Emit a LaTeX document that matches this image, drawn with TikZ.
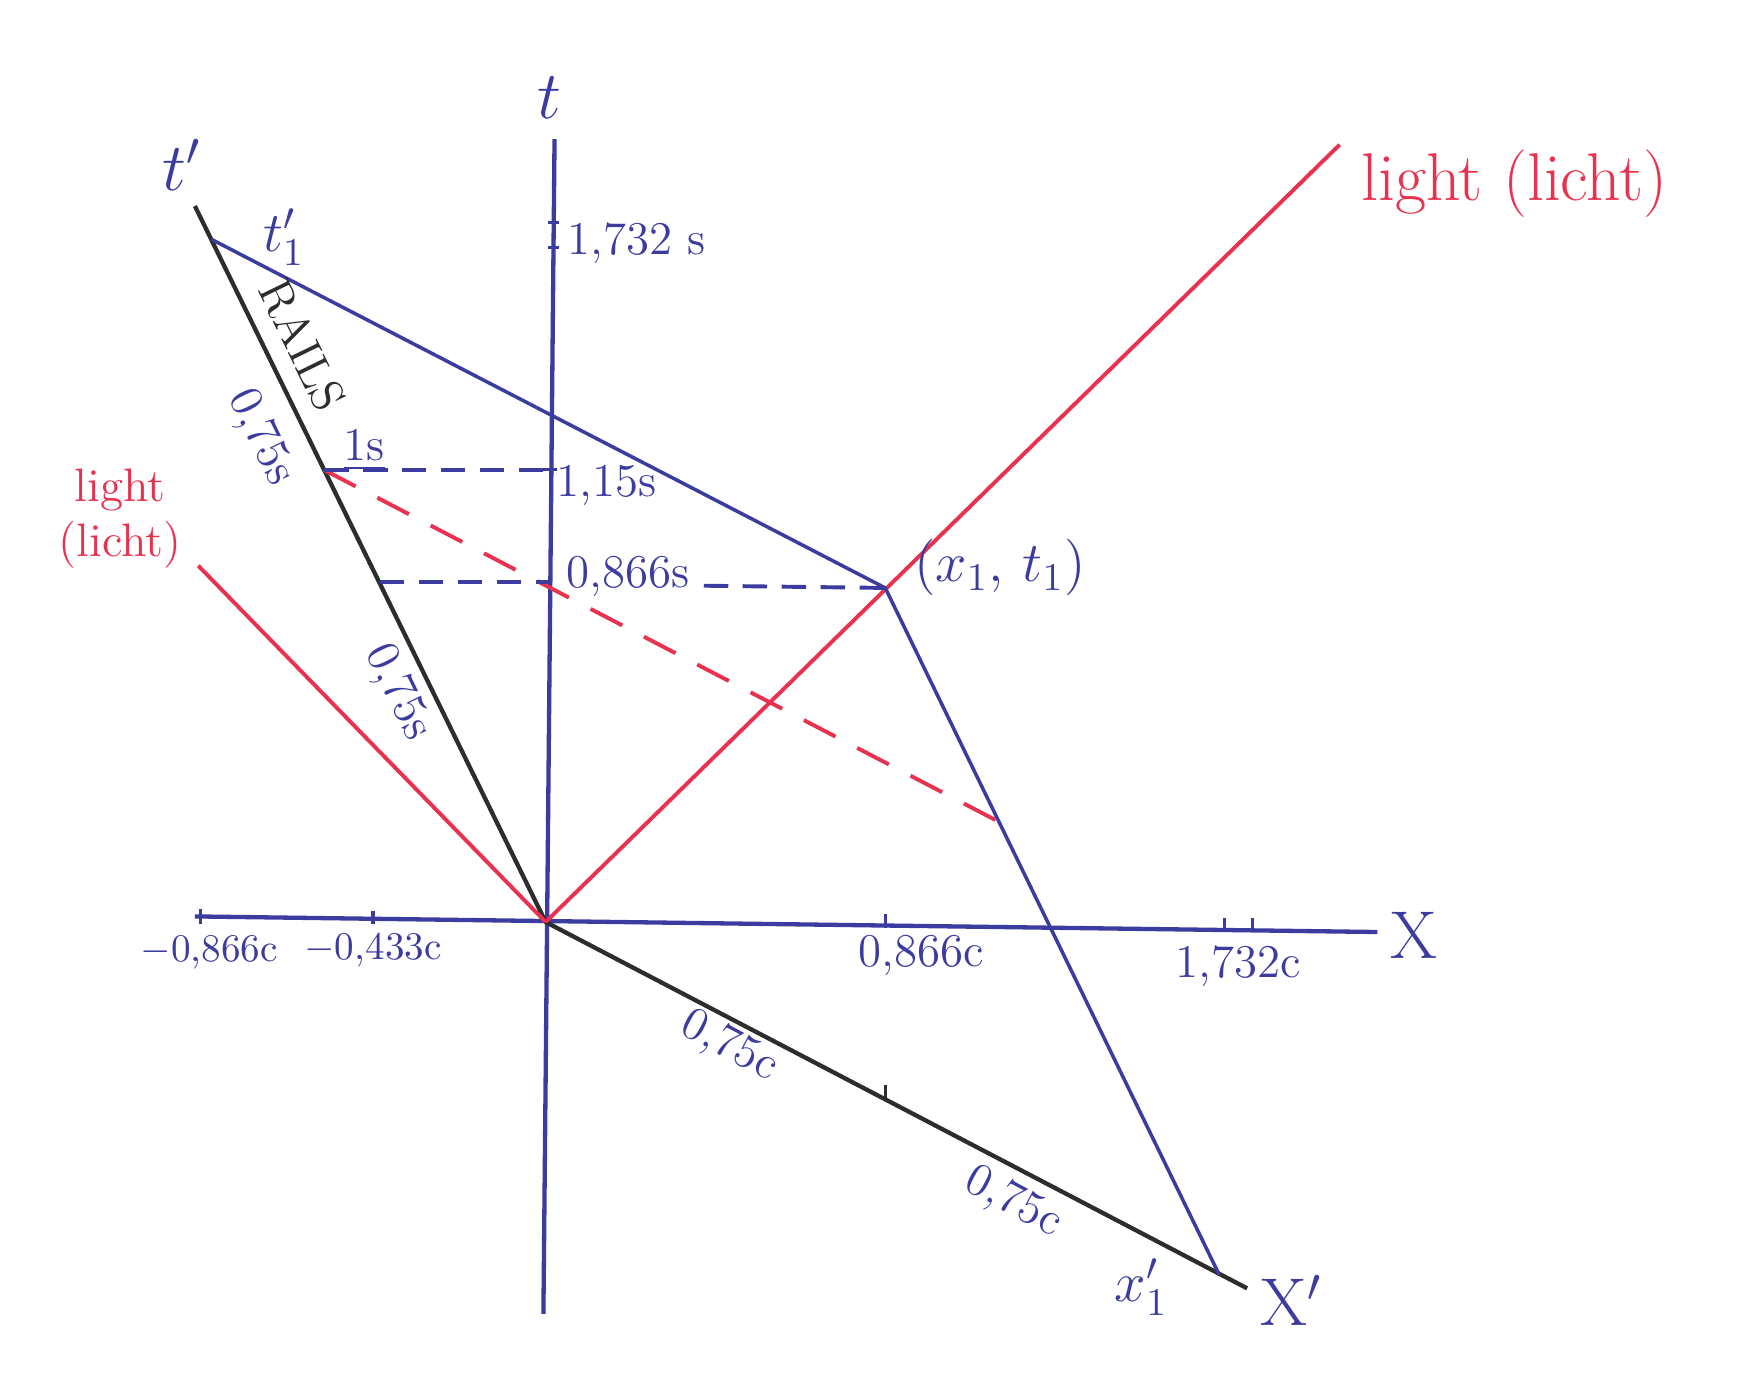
\documentclass[tikz,border=0pt]{standalone}
\usepackage{amsmath}
\usetikzlibrary{positioning,calc}
\definecolor{ink}{RGB}{60,60,160}
\definecolor{lightred}{RGB}{232,50,80}
\definecolor{rail}{RGB}{45,45,45}

\begin{document}
\begin{tikzpicture}[
    axisline/.style={ink,line width=1.1pt},
    inkline/.style={ink,line width=0.9pt},
    redline/.style={lightred,line width=1pt},
    railline/.style={rail,line width=1.1pt},
    inkdash/.style={ink,line width=1pt,dash pattern=on 0.22cm off 0.13cm},
    reddash/.style={lightred,line width=1pt,dash pattern=on 0.32cm off 0.22cm},
    num/.style={ink,font=\large,inner sep=1pt},
    bigname/.style={ink,font=\LARGE}
  ]
  \useasboundingbox (0,0) rectangle (15.68,12.38);

  % frame points
  \coordinate (O) at (4.90,4.10);
  \coordinate (tTop) at (4.98,11.13);
  \coordinate (tBot) at (4.88,0.58);
  \coordinate (xLeft) at (1.75,4.15);
  \coordinate (xRight) at (12.37,4.01);
  \coordinate (tpTop) at (1.75,10.53);
  \coordinate (xpEnd) at (11.20,0.81);

  % events
  \coordinate (T1p) at (1.90,10.23);
  \coordinate (X1T1) at (7.95,7.10);
  \coordinate (X1p) at (10.95,0.93);
  \coordinate (OneS) at (2.91,8.16);
  \coordinate (OneT) at (4.95,8.16);
  \coordinate (HalfP) at (3.41,7.15);
  \coordinate (HalfT) at (4.95,7.15);
  \coordinate (HalfR) at (6.32,7.12);
  \coordinate (RedEnd) at (8.97,5.00);
  \coordinate (LightR) at (12.03,11.08);
  \coordinate (LightL) at (1.78,7.30);

  % axes t and x
  \draw[axisline] (tBot) -- (tTop);
  \draw[axisline] (xLeft) -- (xRight);
  \node[bigname] (tName) at (4.93,11.50) {$t$};
  \node[bigname] (xName) at (12.70,3.98) {X};

  % rails frame t' and x'
  \draw[railline] (tpTop) -- (O) -- (xpEnd);
  \node[bigname] (tpName) at (1.63,10.90) {$t'$};
  \node[bigname] (xpName) at (11.60,0.70) {X$'$};

  % light lines
  \draw[redline] (O) -- (LightR);
  \draw[redline] (LightL) -- (O);
  \node[lightred,font=\LARGE,anchor=west] (lightR) at (12.10,10.73) {light (licht)};
  \node[lightred,font=\large,align=center] (lightL) at (1.08,7.72) {light\\(licht)};

  % event lines
  \draw[inkline] (T1p) -- (X1T1) -- (X1p);
  \draw[reddash] (OneS) -- (RedEnd);
  \draw[inkdash] (OneS) -- (OneT);
  \draw[inkdash] (HalfP) -- (HalfT);
  \draw[inkdash] (HalfR) -- (X1T1);

  % ticks
  \draw[ink,thick] (1.80,4.08) -- (1.80,4.22);
  \draw[ink,thick] (3.35,4.08) -- (3.35,4.20);
  \draw[ink,thick] (7.95,4.05) -- (7.95,4.17);
  \draw[ink,thick] (11.00,4.02) -- (11.00,4.14);
  \draw[ink,thick] (11.25,4.02) -- (11.25,4.14);
  \draw[ink,thick] (4.88,8.16) -- (5.00,8.16);
  \draw[ink,thick] (4.92,10.38) -- (5.02,10.38);
  \draw[ink,thick] (4.92,10.16) -- (5.02,10.16);
  \draw[rail,thick] (7.95,2.50) -- (7.95,2.64);

  % labels on t and x
  \node[num] (l1732s) at (5.72,10.20) {1,732 s};
  \node[num] (l115s) at (5.45,8.02) {1,15s};
  \node[num] (l0866s) at (5.64,7.20) {0,866s};
  \node[num] (l1s) at (3.27,8.34) {\underline{1s}};
  \node[num,font=\normalsize] (lm0866) at (1.88,3.83) {$-$0,866c};
  \node[num,font=\normalsize] (lm0433) at (3.35,3.85) {$-$0,433c};
  \node[num] (l0866c) at (8.27,3.80) {0,866c};
  \node[num] (l1732c) at (11.12,3.70) {1,732c};

  % labels on the rails frame
  \node[rail,font=\large,rotate=-64,inner sep=0pt] (rails) at (2.72,9.28) {RAILS};
  \node[num,rotate=-64,inner sep=0pt] (l075sA) at (2.34,8.45) {0,75s};
  \node[num,rotate=-64,inner sep=0pt] (l075sB) at (3.57,6.16) {0,75s};
  \node[num,rotate=-28,inner sep=0pt] (l075cA) at (6.55,2.98) {0,75c};
  \node[num,rotate=-28,inner sep=0pt] (l075cB) at (9.10,1.58) {0,75c};

  % event names
  \node[bigname,font=\Large] (t1pName) at (2.55,10.25) {$t_1'$};
  \node[bigname,font=\Large] (x1t1Name) at (8.98,7.28) {$(x_1,\,t_1)$};
  \node[bigname,font=\Large] (x1pName) at (10.25,0.82) {$x_1'$};
\end{tikzpicture}
\end{document}
